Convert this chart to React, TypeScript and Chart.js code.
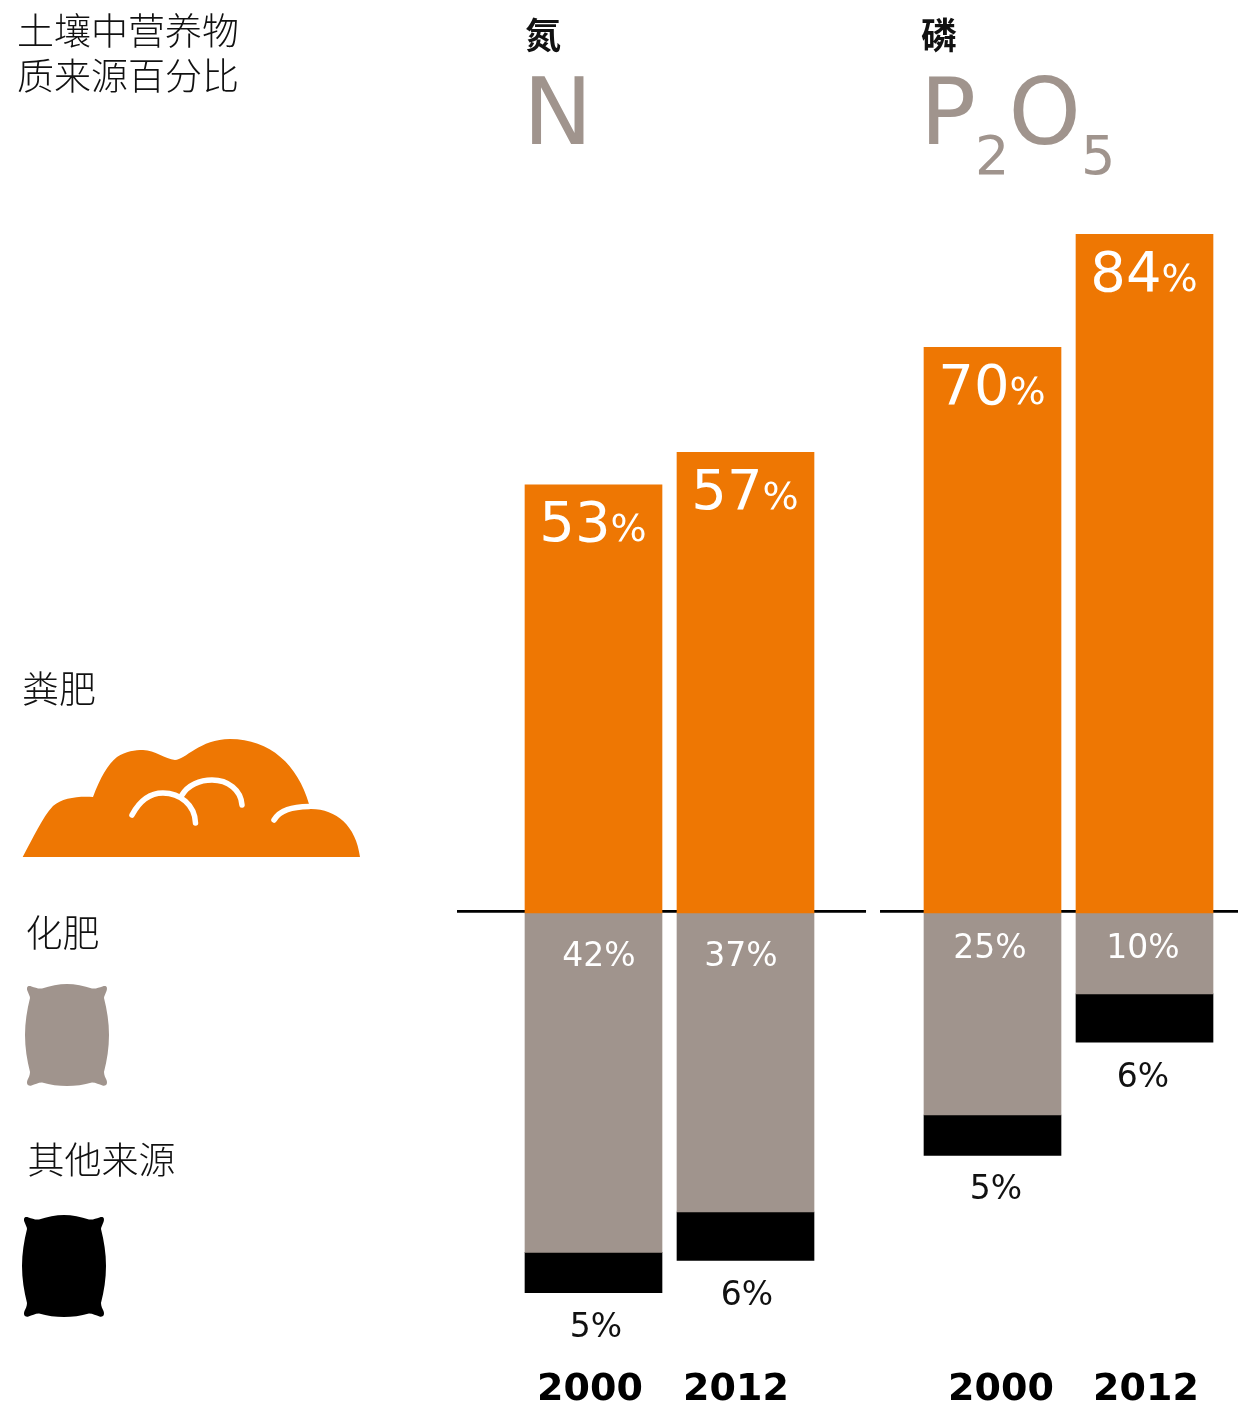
import React, { useEffect, useRef } from "react";
import { Chart, registerables } from "chart.js";

Chart.register(...registerables);

// Share of soil nutrients by source, per nutrient and year (percent).
const BAR_SLOTS = [0, 1, 2.625, 3.625];
const YEARS = ["2000", "2012", "2000", "2012"];
const MANURE = [53, 57, 70, 84];
const FERTILISER = [42, 37, 25, 10];
const OTHER = [5, 6, 5, 6];

const ORANGE = "#ee7703";
const STONE = "#a0948d";
const INK = "#111111";
const LATIN = '"DejaVu Sans"';
const CJK = '"Noto Sans CJK SC"';

const WIDTH = 1238;
const HEIGHT = 1405;
const ZERO_Y = 913;
const PX_PER_PERCENT = 8.08;
const PX_PER_SLOT = 152;
const FIRST_SLOT_X = 593.5;
const RULE_LEVEL = 0.2;

// Horizontal nudges and baselines of the labels around each bar.
const FERTILISER_DX = [5.5, -4.5, -2.5, -1.5];
const FERTILISER_DY = [53, 53, 45, 45];
const OTHER_DX = [2.5, 1.5, 3.5, -1.5];
const OTHER_DY = [44, 45, 44, 45];
const YEAR_DX = [-3.5, -9.5, 8.5, 1.5];

const PILE =
  "M22.7 857 C33 838 42 818 53 806 C62 798 78 796 93 797 C100 778 108 764 117 757 C126 751 135 750 143 750 C155 750 165 759 175 760 C185 760 200 739 230 739 C270 739 298 765 309 804 L309 809 C335 808 356 825 360 857 Z";
const PILE_FOLDS = [
  "M132 815 C140 800 150 793 163 793 C180 793 195 805 195.5 823",
  "M182 795 C188 785 200 780 212 780 C228 780 241 790 242 805",
  "M274 820 C280 810 292 807 309 806.5",
];
const SACK =
  "M27.5 991 C26 987 28 985 31.5 986.5 C35 987.5 38 989 42 988.5 C50 986 59 984 67 984 C75 984 84 986 92 988.5 C96 989 99 987.5 102.5 986.5 C106 985 108 987 106.5 991 C105.5 994 104 996 104 998 C107 1010 109 1022 109 1035 C109 1048 107 1060 104 1072 C104 1075 105.5 1078 106.5 1080 C108 1084 106 1086.5 102.5 1085.5 C99 1084.5 96 1082.5 92 1082.5 C84 1085 75 1086 67 1086 C59 1086 50 1085 42 1082.5 C38 1082.5 35 1084.5 31.5 1085.5 C28 1086.5 26 1084 27.5 1080 C28.5 1078 30 1075 30 1072 C27 1060 25 1048 25 1035 C25 1022 27 1010 30 998 C30 996 28.5 994 27.5 991 Z";

type Ctx = CanvasRenderingContext2D;

function text(ctx: Ctx, s: string, x: number, y: number, font: string, color: string, align: CanvasTextAlign = "left") {
  ctx.font = font;
  ctx.fillStyle = color;
  ctx.textAlign = align;
  ctx.textBaseline = "alphabetic";
  ctx.fillText(s, x, y);
}

function drawSheet(ctx: Ctx) {
  // Heading and column titles
  text(ctx, "土壤中营养物", 17, 44.5, `300 37px ${CJK}`, INK);
  text(ctx, "质来源百分比", 17, 89.5, `300 37px ${CJK}`, INK);
  text(ctx, "氮", 525, 49, `700 36px ${CJK}`, INK);
  text(ctx, "磷", 921, 49, `700 36px ${CJK}`, INK);

  text(ctx, "N", 523, 144, `93px ${LATIN}`, STONE);
  text(ctx, "P", 920, 144, `93px ${LATIN}`, STONE);
  text(ctx, "2", 975, 174, `54px ${LATIN}`, STONE);
  text(ctx, "O", 1008.5, 144, `92px ${LATIN}`, STONE);
  text(ctx, "5", 1081, 174, `54px ${LATIN}`, STONE);

  // Key
  text(ctx, "粪肥", 22, 703, `300 37px ${CJK}`, INK);
  text(ctx, "化肥", 25.5, 947, `300 37px ${CJK}`, INK);
  text(ctx, "其他来源", 27.5, 1173.5, `300 37px ${CJK}`, INK);

  ctx.fillStyle = ORANGE;
  ctx.fill(new Path2D(PILE));
  ctx.strokeStyle = "#ffffff";
  ctx.lineWidth = 5.5;
  ctx.lineCap = "round";
  PILE_FOLDS.forEach((d) => ctx.stroke(new Path2D(d)));

  ctx.fillStyle = STONE;
  ctx.fill(new Path2D(SACK));
  ctx.save();
  ctx.translate(-3, 231);
  ctx.fillStyle = "#000000";
  ctx.fill(new Path2D(SACK));
  ctx.restore();
}

const annotations = {
  id: "annotations",
  afterDatasetsDraw(chart: Chart) {
    const ctx = chart.ctx;
    ctx.save();
    drawSheet(ctx);

    const manure = chart.getDatasetMeta(2).data as any[];
    const fertiliser = chart.getDatasetMeta(3).data as any[];
    const other = chart.getDatasetMeta(4).data as any[];

    BAR_SLOTS.forEach((_, i) => {
      // Large manure share, with a smaller percent sign
      const bigFont = `56px ${LATIN}`;
      const smallFont = `38px ${LATIN}`;
      const digits = String(MANURE[i]);
      ctx.font = bigFont;
      const dw = ctx.measureText(digits).width;
      ctx.font = smallFont;
      const pw = ctx.measureText("%").width;
      const left = manure[i].x - (dw + pw) / 2 - 0.5;
      const base = manure[i].y + 56.5;
      text(ctx, digits, left, base, bigFont, "#ffffff");
      text(ctx, "%", left + dw, base, smallFont, "#ffffff");

      text(ctx, `${FERTILISER[i]}%`, fertiliser[i].x + FERTILISER_DX[i], ZERO_Y + FERTILISER_DY[i], `33px ${LATIN}`, "#ffffff", "center");
      text(ctx, `${OTHER[i]}%`, other[i].x + OTHER_DX[i], other[i].y + OTHER_DY[i], `33px ${LATIN}`, "#111111", "center");
      text(ctx, YEARS[i], other[i].x + YEAR_DX[i], 1400, `700 38px ${LATIN}`, "#000000", "center");
    });
    ctx.restore();
  },
};

export default function App() {
  const ref = useRef<HTMLCanvasElement>(null);

  useEffect(() => {
    const toPoints = (vals: number[], sign: number) =>
      vals.map((v, i) => ({ x: BAR_SLOTS[i], y: sign * v }));
    const rule = (a: number, b: number) => ({
      type: "line" as const,
      data: [{ x: a, y: RULE_LEVEL }, { x: b, y: RULE_LEVEL }],
      borderColor: "#000000",
      borderWidth: 2.7,
      pointRadius: 0,
      order: 5,
    });
    const xMin = -FIRST_SLOT_X / PX_PER_SLOT;
    const xMax = (WIDTH - FIRST_SLOT_X) / PX_PER_SLOT;
    const bar = (label: string, data: { x: number; y: number }[], color: string) => ({
      type: "bar" as const,
      label,
      data,
      backgroundColor: color,
      borderWidth: 0,
      barThickness: 137,
      order: 1,
    });

    const chart = new Chart(ref.current!, {
      type: "bar",
      data: {
        datasets: [
          rule(-0.898, 1.793),
          rule(1.885, xMax),
          bar("粪肥", toPoints(MANURE, 1), ORANGE),
          bar("化肥", toPoints(FERTILISER, -1), STONE),
          bar("其他来源", toPoints(OTHER, -1), "#000000"),
        ],
      } as any,
      options: {
        animation: false,
        responsive: false,
        layout: { padding: 0 },
        plugins: { legend: { display: false }, title: { display: false }, tooltip: { enabled: false } },
        scales: {
          x: { type: "linear", stacked: true, offset: false, min: xMin, max: xMax, display: false },
          y: {
            type: "linear",
            stacked: true,
            min: -(HEIGHT - ZERO_Y) / PX_PER_PERCENT,
            max: ZERO_Y / PX_PER_PERCENT,
            display: false,
          },
        },
      },
      plugins: [annotations],
    } as any);
    return () => chart.destroy();
  }, []);

  return (
    <div style={{ position: "absolute", left: 0, top: 0, width: WIDTH, height: HEIGHT }}>
      <canvas ref={ref} width={WIDTH} height={HEIGHT} style={{ display: "block" }} />
    </div>
  );
}
